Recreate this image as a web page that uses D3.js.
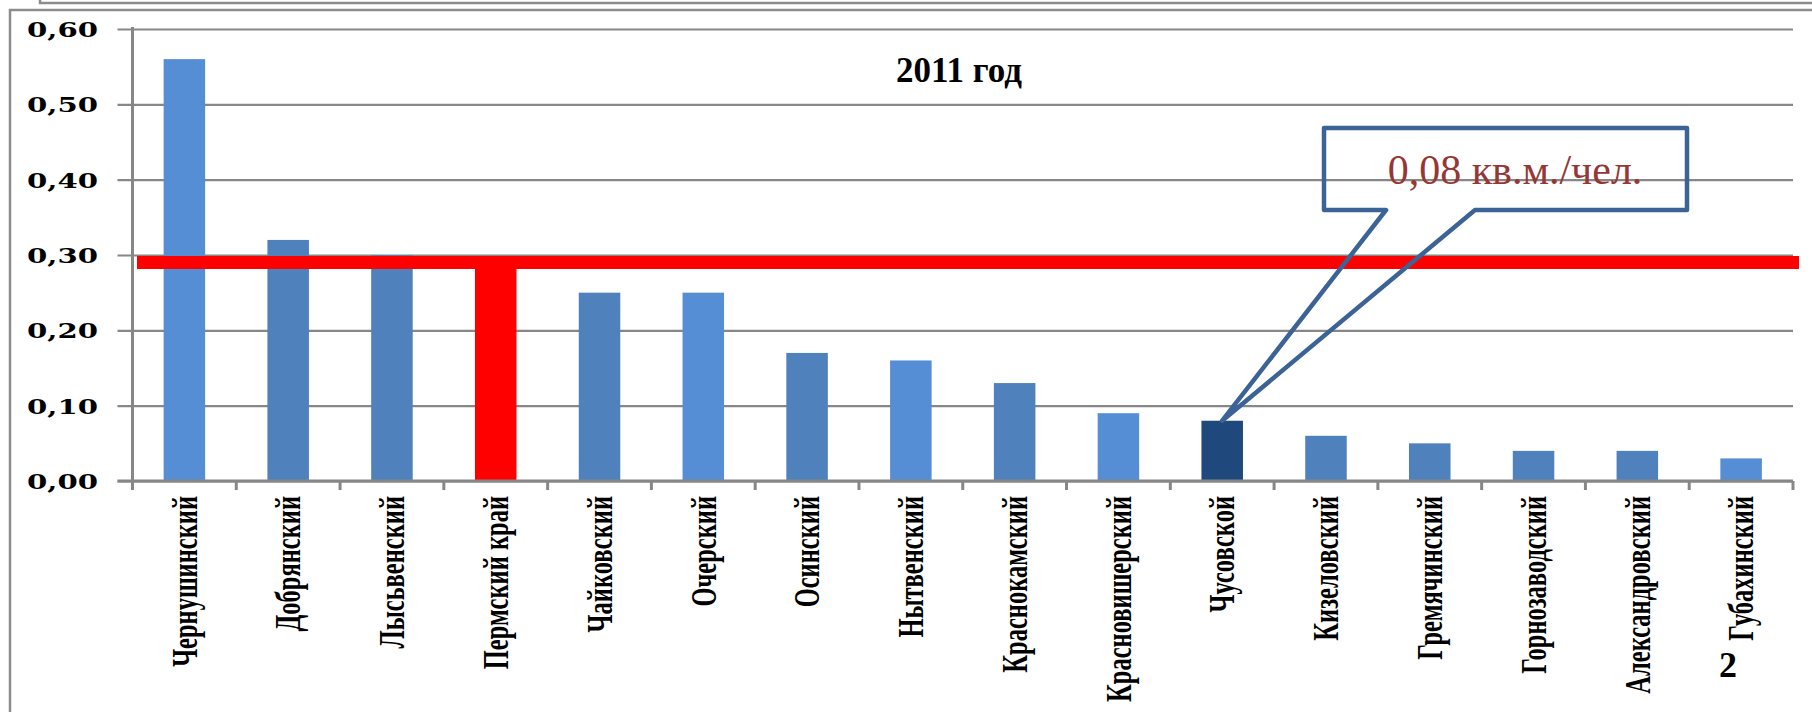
<!DOCTYPE html>
<html>
<head>
<meta charset="utf-8">
<script src="https://cdn.jsdelivr.net/npm/d3@7"></script>
<style>
  body { margin: 0; background: #fff; }
  svg { display: block; }
</style>
</head>
<body>
<div id="chart"></div>
<script>
// data
var districts = ["Чернушинский", "Добрянский", "Лысьвенский", "Пермский край", "Чайковский",
  "Очерский", "Осинский", "Нытвенский", "Краснокамский", "Красновишерский", "Чусовской",
  "Кизеловский", "Гремячинский", "Горнозаводский", "Александровский", "Губахинский"];
var values = [0.56, 0.32, 0.30, 0.29, 0.25, 0.25, 0.17, 0.16, 0.13, 0.09, 0.08, 0.06, 0.05, 0.04, 0.04, 0.03];
var yTicks = [0, 0.1, 0.2, 0.3, 0.4, 0.5, 0.6];
var regionName = "Пермский край";
var highlightName = "Чусовской";
var title = "2011 год";
var calloutText = "0,08 кв.м./чел.";
var pageNumber = "2";

var data = districts.map(function(d, i) { return {name: d, value: values[i]}; });

// bar fills
var light = "#558ed5", mid = "#4f81bd";
var fills = {"Пермский край": "#ff0000", "Чусовской": "#1f497d",
  "Чернушинский": light, "Очерский": light, "Нытвенский": light,
  "Красновишерский": light, "Губахинский": light};

var W = 1812, H = 712;
var margin = {top: 29, left: 132.5, right: W - 1793, bottom: H - 481},
    width = W - margin.left - margin.right,
    height = H - margin.top - margin.bottom;

var svg = d3.select("#chart").append("svg")
    .attr("width", W)
    .attr("height", H);

// frames
var frame = "#8c8c8c";
svg.append("path").attr("d", "M10,712V10H1812").attr("fill", "none")
    .attr("stroke", frame).attr("stroke-width", 2.5);
svg.append("path").attr("d", "M40,0V3H1812").attr("fill", "none")
    .attr("stroke", frame).attr("stroke-width", 2.5);

var g = svg.append("g")
    .attr("transform", "translate(" + margin.left + "," + margin.top + ")");

var x = d3.scaleBand()
    .domain(districts)
    .range([0, width])
    .paddingInner(0.6)
    .paddingOuter(0.3);
var y = d3.scaleLinear()
    .domain([0, 0.6])
    .range([height, 0]);

// gridlines + y labels
var yAxis = g.append("g")
    .call(d3.axisLeft(y).tickValues(yTicks).tickSize(-width)
      .tickFormat(function(d) { return d3.format(".2f")(d).replace(".", ","); }));
yAxis.select(".domain").remove();
yAxis.selectAll(".tick line")
    .attr("x1", -15)
    .attr("stroke", "#878787")
    .attr("stroke-width", 2.2);
yAxis.selectAll(".tick text")
    .attr("x", 98 - margin.left)
    .attr("dy", "0.36em")
    .attr("textLength", 71)
    .attr("lengthAdjust", "spacingAndGlyphs")
    .style("font-family", "'DejaVu Serif', serif")
    .style("font-weight", "bold")
    .style("font-size", "21px")
    .attr("fill", "#000");

// bars
g.selectAll(".bar")
    .data(data)
    .enter().append("rect")
    .attr("class", "bar")
    .attr("x", function(d) { return x(d.name); })
    .attr("width", x.bandwidth())
    .attr("y", function(d) { return y(d.value); })
    .attr("height", function(d) { return height - y(d.value); })
    .style("fill", function(d) { return fills[d.name] || mid; });

// axes lines
var step = x.step(), off = x.paddingOuter() * step;
g.append("line").attr("x1", 0).attr("x2", 0).attr("y1", -2).attr("y2", height + 9)
    .attr("stroke", "#878787").attr("stroke-width", 3);
g.append("line").attr("x1", -15).attr("x2", width).attr("y1", height).attr("y2", height)
    .attr("stroke", "#878787").attr("stroke-width", 3);
g.selectAll(".xtick")
    .data(districts.concat([null]))
    .enter().append("line")
    .attr("class", "xtick")
    .attr("x1", function(d) { return d ? x(d) - off : width; })
    .attr("x2", function(d) { return d ? x(d) - off : width; })
    .attr("y1", height)
    .attr("y2", height + 9)
    .attr("stroke", "#878787")
    .attr("stroke-width", 3);

// category labels (condensed along the reading direction)
g.selectAll(".cat")
    .data(data)
    .enter().append("text")
    .attr("class", "cat")
    .attr("transform", function(d) {
      return "translate(" + (x(d.name) + x.bandwidth() / 2) + "," + (height + 15) + ") rotate(-90) scale(0.7,1)";
    })
    .attr("dy", "0.35em")
    .style("text-anchor", "end")
    .style("font-family", "'Liberation Serif', serif")
    .style("font-weight", "bold")
    .style("font-size", "35px")
    .text(function(d) { return d.name; });

// red level line of the region
var regionY = y(values[districts.indexOf(regionName)]);
g.append("line")
    .attr("x1", 4.5).attr("x2", 1799 - margin.left)
    .attr("y1", regionY).attr("y2", regionY)
    .attr("stroke", "#ff0000").attr("stroke-width", 13);

// title
svg.append("text")
    .attr("x", 959).attr("y", 82)
    .style("text-anchor", "middle")
    .style("font-family", "'Liberation Serif', serif")
    .style("font-weight", "bold")
    .style("font-size", "35px")
    .text(title);

// callout pointing at the highlighted bar
var tipX = margin.left + x(highlightName) + x.bandwidth() / 2,
    tipY = margin.top + y(values[districts.indexOf(highlightName)]);
svg.append("path")
    .attr("d", "M1324,128H1687V210H1475L" + tipX + "," + tipY + "L1386,210H1324Z")
    .attr("fill", "none")
    .attr("stroke", "#3b6396")
    .attr("stroke-width", 4.5)
    .attr("stroke-linejoin", "round");
svg.append("text")
    .attr("x", 1515).attr("y", 184)
    .style("text-anchor", "middle")
    .style("font-family", "'Liberation Serif', serif")
    .style("font-size", "42px")
    .attr("fill", "#953735")
    .text(calloutText);

svg.append("text")
    .attr("x", 1728).attr("y", 677)
    .style("text-anchor", "middle")
    .style("font-family", "'Liberation Serif', serif")
    .style("font-weight", "bold")
    .style("font-size", "36px")
    .text(pageNumber);
</script>
</body>
</html>
